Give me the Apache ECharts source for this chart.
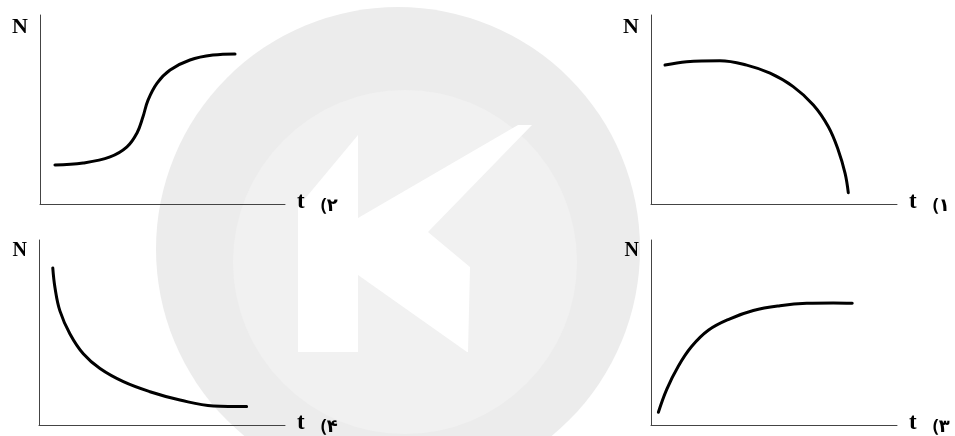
<!DOCTYPE html>
<html>
<head>
<meta charset="utf-8">
<script src="https://cdn.jsdelivr.net/npm/echarts@6/dist/echarts.min.js"></script>
<style>
  html, body { margin: 0; padding: 0; background: #fff; }
  #main { width: 955px; height: 436px; }
</style>
</head>
<body>
<div id="main"></div>
<script>
// panel labels (Persian numerals), order: top-left, top-right, bottom-left, bottom-right
var panelLabels = ['۲', '۱', '۴', '۳'];

// S-shaped growth (panel 2)
var curve2T = [6.1, 17.6, 28.6, 35.5, 39.6, 42.0, 44.1, 47.8, 53.1, 61.2, 70.6, 79.6];
var curve2N = [20.6, 21.7, 24.9, 30.2, 37.6, 46.0, 55.0, 64.0, 70.9, 76.2, 78.8, 79.4];

// flat then falling (panel 1)
var curve1T = [5.7, 14.5, 28.0, 38.9, 48.4, 57.8, 66.0, 72.1, 76.1, 78.9, 80.2];
var curve1N = [73.5, 75.3, 75.8, 73.5, 69.2, 62.1, 52.4, 40.9, 28.6, 16.2, 6.0];

// decay (panel 4)
var curve4T = [5.6, 6.5, 8.5, 12.6, 18.0, 24.8, 34.3, 45.1, 57.3, 70.9, 84.4];
var curve4N = [84.9, 74.2, 61.7, 49.2, 38.5, 30.5, 23.4, 18.0, 13.5, 10.3, 10.0];

// saturating rise (panel 3)
var curve3T = [3.0, 6.4, 11.1, 16.5, 23.3, 32.1, 41.6, 52.4, 63.3, 74.1, 81.8];
var curve3N = [6.9, 19.3, 31.8, 42.4, 51.2, 57.4, 61.9, 64.5, 65.8, 66.0, 65.8];

var curves = [[curve2T, curve2N], [curve1T, curve1N], [curve4T, curve4N], [curve3T, curve3N]];

var grids = [
    { left: 40, top: 15, width: 245, height: 189 },
    { left: 651, top: 15, width: 246, height: 189 },
    { left: 39, top: 240, width: 246, height: 187 },
    { left: 651, top: 240, width: 246, height: 188 }
];

function pairs(t, n) {
    var out = [];
    for (var i = 0; i < t.length; i++) out.push([t[i], n[i]]);
    return out;
}

var axisLine = { show: true, lineStyle: { color: '#444', width: 1 } };
var serif = '"Liberation Serif", "DejaVu Serif", serif';

var xAxes = [], yAxes = [], series = [];
for (var i = 0; i < 4; i++) {
    xAxes.push({
        type: 'value', gridIndex: i, min: 0, max: 100,
        axisLine: axisLine, axisTick: { show: false }, axisLabel: { show: false }, splitLine: { show: false },
        name: '{t|t}{n|(' + panelLabels[i] + '}',
        nameLocation: 'end',
        nameGap: 12,
        nameTextStyle: {
            rich: {
                t: { fontFamily: serif, fontWeight: 'bold', fontSize: 23, color: '#000', padding: [0, 16, 4, 0] },
                n: { fontFamily: '"Noto Sans", "DejaVu Sans", sans-serif', fontWeight: 'bold', fontSize: 18, color: '#000', padding: [4, 0, 0, 0] }
            }
        }
    });
    yAxes.push({
        type: 'value', gridIndex: i, min: 0, max: 100,
        axisLine: axisLine, axisTick: { show: false }, axisLabel: { show: false }, splitLine: { show: false },
        name: 'N',
        nameLocation: 'end',
        nameGap: -1,
        nameTextStyle: {
            fontFamily: serif, fontWeight: 'bold', fontSize: i < 2 ? 22 : 20, color: '#000',
            align: 'right', verticalAlign: 'top', padding: [0, 12, 0, 0]
        }
    });
    series.push({
        type: 'line', xAxisIndex: i, yAxisIndex: i,
        data: pairs(curves[i][0], curves[i][1]),
        smooth: 0.4, showSymbol: false, silent: true,
        lineStyle: { color: '#000', width: 3, cap: 'round' }
    });
}

var chart = echarts.init(document.getElementById('main'));
chart.setOption({
    animation: false,
    backgroundColor: '#fff',
    grid: grids,
    xAxis: xAxes,
    yAxis: yAxes,
    series: series,
    // faint watermark behind the charts
    graphic: [
        { type: 'circle', z: -10, silent: true, shape: { cx: 398, cy: 249, r: 242 }, style: { fill: '#ececec' } },
        { type: 'circle', z: -9, silent: true, shape: { cx: 405, cy: 262, r: 172 }, style: { fill: '#f1f1f1' } },
        {
            type: 'polygon', z: -8, silent: true,
            shape: { points: [[298, 207], [358, 135], [358, 218], [518, 125], [532, 125], [428, 232], [470, 267], [468, 352], [467, 352], [358, 275], [358, 352], [298, 352]] },
            style: { fill: '#ffffff' }
        }
    ]
});
</script>
</body>
</html>
